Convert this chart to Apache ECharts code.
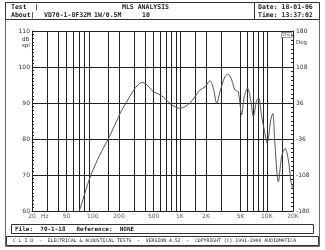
<!DOCTYPE html>
<html><head><meta charset="utf-8">
<script src="https://cdn.jsdelivr.net/npm/echarts@6/dist/echarts.min.js"></script>
<style>html,body{margin:0;padding:0;background:#fff}#c{width:325px;height:250px}</style>
</head><body><div id="c"></div>
<script>
// SPL response (Hz, dB spl)
const freqHz = [70, 80, 95, 120, 150, 180, 215, 245, 290, 330, 365, 400, 450, 500, 570, 650, 800, 920, 1000, 1150, 1310, 1500, 1700, 1950, 2220, 2430, 2660, 2900, 3300, 3600, 3950, 4300, 4700, 5140, 5500, 6020, 6530, 7000, 7650, 8070, 8730, 9350, 10100, 11100, 11700, 12300, 13000, 13550, 14800, 16200, 17700, 18960, 20000];
const splDb  = [60, 64.5, 70, 75.5, 80, 84, 88, 90.3, 93.3, 95, 95.7, 95.4, 94.3, 93.1, 92.5, 91.6, 89.5, 88.8, 88.5, 89, 90, 91.8, 93.6, 94.5, 96.2, 94.1, 89.9, 93.2, 97.3, 98, 96.4, 93.6, 93.1, 86.7, 91.8, 94.1, 90.8, 86.2, 90.8, 91.3, 86.2, 82.5, 78.8, 85.3, 87.1, 80, 71.4, 68.1, 75.1, 77.4, 74.2, 68.1, 66];
// vertical grid lines (Hz)
const gridFreqs = [30, 40, 50, 60, 70, 80, 90, 150, 200, 300, 400, 500, 600, 700, 800, 900, 1000, 1500, 2000, 3000, 5000, 6000, 7000, 8000, 9000, 10000, 15000];
// x tick labels
const xTickValues = [20, 28, 50, 100, 200, 500, 1000, 2000, 5000, 10000, 20000];
const xTickLabels = ['20', 'Hz', '50', '100', '200', '500', '1K', '2K', '5K', '10K', '20K'];
// y axes
const dbMin = 60, dbMax = 110, dbStep = 10;
const degMin = -180, degMax = 180, degStep = 72;

const chart = echarts.init(document.getElementById('c'), null, {renderer: 'canvas'});
const mono = 'DejaVu Sans Mono';
const lab = {fontFamily: 'DejaVu Sans', fontSize: 6, color: '#333'};
const hdr = {fontFamily: mono, fontSize: 6.5, fontWeight: 'bold', fill: '#222'};
const ftr = {fontFamily: mono, fontSize: 4.8, fill: '#222'};

chart.setOption({
  animation: false,
  backgroundColor: '#fff',
  grid: {left: 32, right: 32, top: 31, bottom: 39},
  xAxis: {
    type: 'log', logBase: 10, min: 20, max: 20000,
    axisLine: {show: true, onZero: false, lineStyle: {color: '#222', width: 1}},
    axisTick: {show: false}, axisLabel: {show: false}, splitLine: {show: false}, minorSplitLine: {show: false}
  },
  yAxis: [{
    type: 'value', min: dbMin, max: dbMax, interval: dbStep, position: 'left',
    axisLine: {show: true, lineStyle: {color: '#222', width: 1}},
    axisTick: {show: true, inside: true, length: 2, lineStyle: {color: '#222'}},
    minorTick: {show: true, splitNumber: 10, length: 2, lineStyle: {color: '#222'}},
    axisLabel: Object.assign({margin: 2}, lab),
    splitLine: {show: true, lineStyle: {color: '#222', width: 1}}
  }, {
    type: 'value', min: degMin, max: degMax, interval: degStep, position: 'right',
    axisLine: {show: true, lineStyle: {color: '#222', width: 1}},
    axisTick: {show: true, inside: true, length: 2, lineStyle: {color: '#222'}},
    minorTick: {show: true, splitNumber: 8, length: 2, lineStyle: {color: '#222'}},
    axisLabel: Object.assign({margin: 3}, lab),
    splitLine: {show: false}
  }],
  series: [{
    type: 'line', yAxisIndex: 0, showSymbol: false, smooth: 0.3, clip: true,
    data: freqHz.map((f, i) => [f, splDb[i]]),
    lineStyle: {color: '#555', width: 1},
    markLine: {
      silent: true, symbol: ['none', 'none'], label: {show: false},
      lineStyle: {color: '#222', type: 'solid', width: 1},
      data: gridFreqs.map(f => ({xAxis: f}))
    },
    z: 5
  }, {
    type: 'scatter', yAxisIndex: 0, symbolSize: 1, itemStyle: {color: 'transparent'}, clip: false,
    data: xTickValues.map((v, i) => ({value: [v, dbMin], label: {formatter: xTickLabels[i]}})),
    label: Object.assign({show: true, position: 'bottom', distance: 2}, lab)
  }],
  graphic: [
    // outer frame
    {type: 'rect', shape: {x: 5.5, y: 2.5, width: 314, height: 244}, style: {fill: 'none', stroke: '#666', lineWidth: 1}},
    // header box
    {type: 'rect', shape: {x: 5.5, y: 2.5, width: 314, height: 17}, style: {fill: 'none', stroke: '#333', lineWidth: 1}},
    {type: 'line', shape: {x1: 254.5, y1: 2.5, x2: 254.5, y2: 19.5}, style: {stroke: '#333', lineWidth: 1}},
    {type: 'text', left: 11, top: 4, style: Object.assign({text: 'Test  |'}, hdr)},
    {type: 'text', left: 11, top: 12, style: Object.assign({text: 'About|'}, hdr)},
    {type: 'text', left: 122, top: 4, style: Object.assign({text: 'MLS ANALYSIS'}, hdr)},
    {type: 'text', left: 44, top: 12, style: Object.assign({text: 'VD70-1-8F32M'}, hdr)},
    {type: 'text', left: 94, top: 12, style: Object.assign({text: '1W/0.5M'}, hdr)},
    {type: 'text', left: 142, top: 12, style: Object.assign({text: '10'}, hdr)},
    {type: 'text', left: 258, top: 4, style: Object.assign({text: 'Date: 18-01-06'}, hdr)},
    {type: 'text', left: 258, top: 12, style: Object.assign({text: 'Time: 13:37:02'}, hdr)},
    // axis units
    {type: 'text', left: 22, top: 37, style: {text: 'dB\nspl', fontFamily: 'DejaVu Sans', fontSize: 5.5, fill: '#333', lineHeight: 6}},
    {type: 'text', left: 296, top: 40, style: {text: 'Deg', fontFamily: 'DejaVu Sans', fontSize: 5.5, fill: '#333'}},
    // logo
    {type: 'rect', shape: {x: 281.5, y: 32.5, width: 10, height: 5}, style: {fill: '#fff', stroke: '#555', lineWidth: 0.6}, z: 10},
    {type: 'text', left: 282.5, top: 32.5, z: 11, style: {text: 'Clio', fontFamily: 'DejaVu Sans', fontSize: 4, fill: '#333'}},
    // footer
    {type: 'rect', shape: {x: 11.5, y: 224.5, width: 302, height: 9}, style: {fill: 'none', stroke: '#333', lineWidth: 1}},
    {type: 'text', left: 15, top: 226, style: {text: 'File:  70-1-18   Reference:  NONE', fontFamily: mono, fontSize: 6, fontWeight: 'bold', fill: '#222'}},
    {type: 'rect', shape: {x: 6.5, y: 236.5, width: 312, height: 9}, style: {fill: 'none', stroke: '#333', lineWidth: 1}},
    {type: 'text', left: 13, top: 238.5, style: Object.assign({text: 'C L I O  -  ELECTRICAL & ACOUSTICAL TESTS  -  VERSION 4.52  -  COPYRIGHT (C) 1991-2000 AUDIOMATICA'}, ftr)}
  ]
});
</script></body></html>
